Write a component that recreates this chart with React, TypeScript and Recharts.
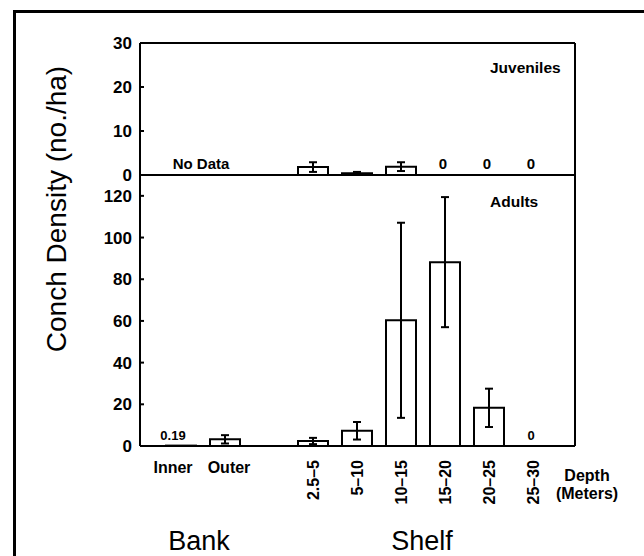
import React from "react";
import {
  BarChart,
  Bar,
  XAxis,
  YAxis,
  ErrorBar,
  ReferenceArea,
} from "recharts";

// depth strata (blank entry = gap between bank and shelf)
const categories = ["Inner", "Outer", "", "2.5–5", "5–10", "10–15", "15–20", "20–25", "25–30"];
const bankLabels = ["Inner", "Outer"];

const juvenileMean = [null, null, null, 1.8, 0.4, 1.9, 0, 0, 0];
const juvenileErr = [null, null, null, 1.1, 0.3, 1.0, null, null, null];
const juvenileNote = ["", "", "", "", "", "", "0", "0", "0"];

const adultMean = [0.19, 3.2, null, 2.4, 7.3, 60.3, 88.2, 18.3, 0];
const adultErr = [null, 2.0, null, 1.5, 4.2, 46.8, 31.2, 9.2, null];
const adultNote = ["0.19", "", "", "", "", "", "", "", "0"];

const juvTicks = [0, 10, 20, 30];
const adultTicks = [0, 20, 40, 60, 80, 100, 120];

const juvenileData = categories.map((c, i) => ({
  depth: c,
  mean: juvenileMean[i],
  err: juvenileErr[i],
  note: juvenileNote[i],
}));

const adultData = categories.map((c, i) => ({
  depth: c,
  mean: adultMean[i],
  err: adultErr[i],
  note: adultNote[i],
}));

const W = 644;
const H = 556;
const line = { stroke: "#000", strokeWidth: 2 };
const yTick = { fill: "#000", fontSize: 17, fontWeight: 700 };
const xPad = { left: 19, right: 20 };
// bank labels sit a little wider apart than the bars
const bankShift: Record<string, number> = { Inner: -8, Outer: 4 };

const noteLabel = (value: string, size: number, key: string) => ({
  value,
  position: "insideBottom" as const,
  offset: 6,
  dx: bankShift[key] || -2,
  fontSize: size,
  fontWeight: 700,
  fill: "#000",
});

const DepthTick = (props: any) => {
  const { x, y, payload } = props;
  const v = String(payload.value);
  if (!v) return null;
  if (bankLabels.includes(v)) {
    return (
      <text x={x + bankShift[v]} y={y} dy={13} textAnchor="middle" fontSize={16} fontWeight={700} fill="#000">
        {v}
      </text>
    );
  }
  return (
    <text
      x={x}
      y={y}
      dy={6}
      transform={`rotate(-90, ${x}, ${y})`}
      textAnchor="end"
      fontSize={16}
      fontWeight={700}
      fill="#000"
    >
      {v}
    </text>
  );
};

export default function App() {
  return (
    <div
      style={{
        position: "absolute",
        left: 0,
        top: 0,
        width: W,
        height: H,
        overflow: "hidden",
        background: "#fff",
        fontFamily: "'Liberation Sans', Arial, sans-serif",
      }}
    >
      {/* Juveniles panel */}
      <div style={{ position: "absolute", left: 0, top: 0 }}>
        <BarChart
          width={W}
          height={H}
          data={juvenileData}
          margin={{ top: 42, right: 68, bottom: 380, left: 100 }}
        >
          <XAxis dataKey="depth" height={1} tick={false} tickLine={false} axisLine={line} padding={xPad} />
          <XAxis
            xAxisId="t"
            orientation="top"
            dataKey="depth"
            height={1}
            tick={false}
            tickLine={false}
            axisLine={line}
            padding={xPad}
          />
          <YAxis
            width={40}
            domain={[0, 30]}
            ticks={juvTicks}
            interval={0}
            tickSize={-4}
            tickMargin={12}
            tick={yTick}
            tickLine={line}
            axisLine={line}
          />
          <YAxis yAxisId="r" orientation="right" width={1} tick={false} tickLine={false} axisLine={line} />
          <ReferenceArea x1="Inner" x2="Outer" fill="none" stroke="none" label={noteLabel("No Data", 15, "")} />
          {juvenileData
            .filter((d) => d.note)
            .map((d) => (
              <ReferenceArea
                key={d.depth}
                x1={d.depth}
                x2={d.depth}
                fill="none"
                stroke="none"
                label={noteLabel(d.note, 15, d.depth)}
              />
            ))}
          <Bar dataKey="mean" fill="#fff" stroke="#000" strokeWidth={2} barSize={30} isAnimationActive={false}>
            <ErrorBar dataKey="err" width={4} stroke="#000" strokeWidth={2} direction="y" />
          </Bar>
        </BarChart>
      </div>

      {/* Adults panel */}
      <div style={{ position: "absolute", left: 0, top: 0 }}>
        <BarChart
          width={W}
          height={H}
          data={adultData}
          margin={{ top: 175, right: 68, bottom: 10, left: 100 }}
        >
          <XAxis
            dataKey="depth"
            height={100}
            interval={0}
            tickSize={0}
            tickMargin={14}
            tick={<DepthTick />}
            tickLine={false}
            axisLine={line}
            padding={xPad}
          />
          <YAxis
            width={40}
            domain={[0, 130]}
            ticks={adultTicks}
            interval={0}
            tickSize={-4}
            tickMargin={12}
            tick={yTick}
            tickLine={line}
            axisLine={line}
          />
          <YAxis yAxisId="r" orientation="right" width={1} tick={false} tickLine={false} axisLine={line} />
          {adultData
            .filter((d) => d.note)
            .map((d) => (
              <ReferenceArea
                key={d.depth}
                x1={d.depth}
                x2={d.depth}
                fill="none"
                stroke="none"
                label={noteLabel(d.note, 13, d.depth)}
              />
            ))}
          <Bar dataKey="mean" fill="#fff" stroke="#000" strokeWidth={2} barSize={30} isAnimationActive={false}>
            <ErrorBar dataKey="err" width={4} stroke="#000" strokeWidth={2} direction="y" />
          </Bar>
        </BarChart>
      </div>

      <svg
        width={W}
        height={H}
        style={{ position: "absolute", left: 0, top: 0, pointerEvents: "none" }}
      >
        {/* page frame, open to the right and bottom */}
        <line x1={13} y1={11.5} x2={W} y2={11.5} stroke="#000" strokeWidth={3} />
        <line x1={14.5} y1={10} x2={14.5} y2={H} stroke="#000" strokeWidth={3} />
        <text
          x={66}
          y={209}
          transform="rotate(-90, 66, 209)"
          textAnchor="middle"
          fontSize={28}
          fill="#000"
        >
          Conch Density (no./ha)
        </text>
        <text x={490} y={73} fontSize={15.5} fontWeight={700} fill="#000">
          Juveniles
        </text>
        <text x={490} y={207} fontSize={15.5} fontWeight={700} fill="#000">
          Adults
        </text>
        <text x={587} y={481} textAnchor="middle" fontSize={16} fontWeight={700} fill="#000">
          Depth
        </text>
        <text x={587} y={499} textAnchor="middle" fontSize={16} fontWeight={700} fill="#000">
          (Meters)
        </text>
        <text x={199} y={550} textAnchor="middle" fontSize={27} fill="#000">
          Bank
        </text>
        <text x={422} y={550} textAnchor="middle" fontSize={27} fill="#000">
          Shelf
        </text>
      </svg>
    </div>
  );
}
